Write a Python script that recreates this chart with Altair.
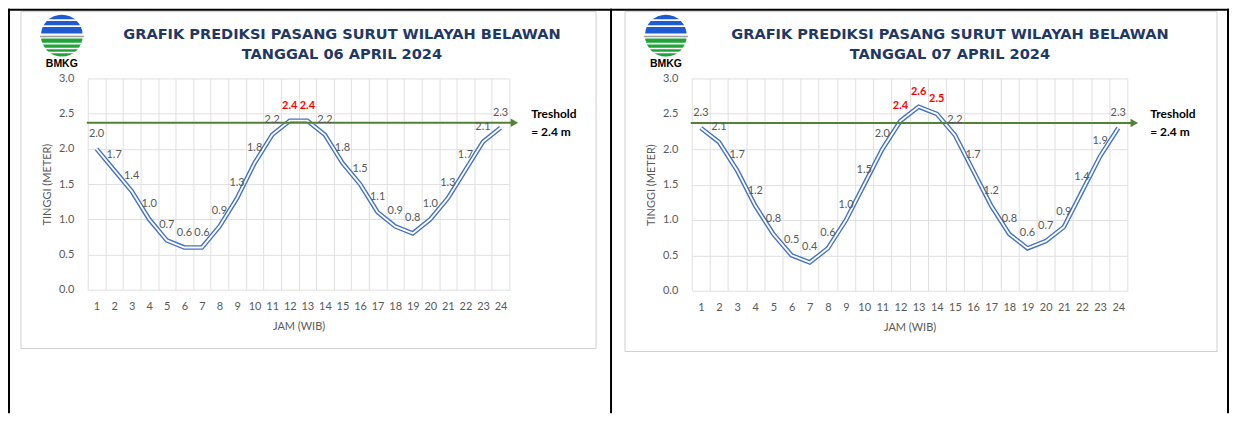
import math
import altair as alt
import pandas as pd

# ---------------- data ----------------
hours = list(range(1, 25))
tide_06_april = [2.0, 1.7, 1.4, 1.0, 0.7, 0.6, 0.6, 0.9, 1.3, 1.8, 2.2, 2.4,
                 2.4, 2.2, 1.8, 1.5, 1.1, 0.9, 0.8, 1.0, 1.3, 1.7, 2.1, 2.3]
tide_07_april = [2.3, 2.1, 1.7, 1.2, 0.8, 0.5, 0.4, 0.6, 1.0, 1.5, 2.0, 2.4,
                 2.6, 2.5, 2.2, 1.7, 1.2, 0.8, 0.6, 0.7, 0.9, 1.4, 1.9, 2.3]
chart_title = "GRAFIK PREDIKSI PASANG SURUT WILAYAH BELAWAN"
date_labels = ["TANGGAL 06 APRIL 2024", "TANGGAL 07 APRIL 2024"]
threshold_value = 2.4          # value named in the note
threshold_line_level = 2.37    # level at which the arrow is drawn
threshold_text = ["Treshold", "= 2.4 m"]
y_ticks = [0.0, 0.5, 1.0, 1.5, 2.0, 2.5, 3.0]
x_title = "JAM (WIB)"
y_title = "TINGGI (METER)"
logo_text = "BMKG"

# ---------------- styles ----------------
NAVY = "#1F3864"
BLUE = "#4472C4"
GREEN_LINE = "#548235"
GRAY_TXT = "#595959"
GRID = "#E0E0E0"
BOX = "#CFCFCF"
LOGO_BLUE = "#1F5BD0"
LOGO_GREEN = "#22A33A"

one = pd.DataFrame({"k": [0]})

y_scale = alt.Scale(domain=[0, 3], nice=False)
y_axis = alt.Axis(title=y_title, values=y_ticks, format=".1f", grid=True, ticks=False,
                  domain=False, labelPadding=14, titlePadding=6, labelOverlap=False,
                  tickCount=7)


def deco():
    return alt.Chart(one)


def rect(x, x2, y, y2, fill):
    return deco().mark_rect(fill=fill).encode(
        x=alt.value(x), x2=alt.value(x2), y=alt.value(y), y2=alt.value(y2))


def hline(x, x2, y, color, width):
    return deco().mark_rule(color=color, strokeWidth=width).encode(
        x=alt.value(x), x2=alt.value(x2), y=alt.value(y))


def logo(cx, cy):
    r = 21
    layers = [
        deco().mark_arc(color=LOGO_BLUE, radius=r, theta=1.5 * math.pi,
                        theta2=2.5 * math.pi).encode(x=alt.value(cx), y=alt.value(cy)),
        deco().mark_arc(color=LOGO_GREEN, radius=r, theta=0.5 * math.pi,
                        theta2=1.5 * math.pi).encode(x=alt.value(cx), y=alt.value(cy)),
        hline(cx - 24, cx + 24, cy - 15.5, "white", 2),
        hline(cx - 24, cx + 24, cy - 9.5, "white", 1.8),
        hline(cx - 24, cx + 24, cy + 0.5, "white", 5),
        hline(cx - 22, cx + 22, cy + 1, "#9A9A9A", 1.5),
        hline(cx - 24, cx + 24, cy + 8, "white", 1.8),
        hline(cx - 24, cx + 24, cy + 13, "white", 1.5),
        hline(cx - 24, cx + 24, cy + 17, "white", 1.5),
        deco().mark_text(text=logo_text, font="Liberation Sans", fontWeight="bold",
                         fontSize=10.5, color="black", align="center",
                         baseline="middle").encode(x=alt.value(cx), y=alt.value(cy + 28.5)),
    ]
    return layers


def panel(values, date_text, w, h, geo):
    df = pd.DataFrame({"hour": hours, "v": values})
    base = alt.Chart(df)
    x = alt.X("hour:O", bandPosition=0.5,
              scale=alt.Scale(type="band", paddingInner=0, paddingOuter=0),
              axis=alt.Axis(title=x_title, labelAngle=0, tickBand="extent", grid=True,
                            ticks=False, domain=False, labelPadding=11, titlePadding=9,
                            labelOverlap=False))
    y = alt.Y("v:Q", scale=y_scale, axis=y_axis)
    y_thr = alt.Y(datum=threshold_line_level, type="quantitative", scale=y_scale, axis=y_axis)

    line_outer = base.mark_line(color=BLUE, strokeWidth=4.6).encode(x=x, y=y)
    line_inner = base.mark_line(color="white", strokeWidth=1.8).encode(x=x, y=y)
    lab_gray = base.transform_filter(f"datum.v < {threshold_value}").mark_text(
        dy=-15, font="Lato", fontSize=11, color=GRAY_TXT, baseline="middle").encode(
        x=x, y=y, text=alt.Text("v:Q", format=".1f"))
    lab_red = base.transform_filter(f"datum.v >= {threshold_value}").mark_text(
        dy=-15, font="Lato", fontSize=11, fontWeight="bold", color="#FF0000",
        baseline="middle").encode(x=x, y=y, text=alt.Text("v:Q", format=".1f"))

    tip = geo["tip"]
    thr_rule = deco().mark_rule(color=GREEN_LINE, strokeWidth=2).encode(
        x=alt.value(-1), x2=alt.value(tip - 6), y=y_thr)
    thr_head = deco().mark_point(shape="triangle-right", filled=True, size=75,
                                 color=GREEN_LINE, opacity=1).encode(
        x=alt.value(tip - 4), y=y_thr)
    thr_t1 = deco().mark_text(text=threshold_text[0], font="Lato", fontWeight="bold",
                              fontSize=12, color="black", align="left",
                              baseline="middle").encode(x=alt.value(geo["tx"]), y=alt.value(36))
    thr_t2 = deco().mark_text(text=threshold_text[1], font="Lato", fontWeight="bold",
                              fontSize=12, color="black", align="left",
                              baseline="middle").encode(x=alt.value(geo["tx"]), y=alt.value(54))

    title1 = deco().mark_text(text=chart_title, font="DejaVu Sans", fontWeight="bold",
                              fontSize=14.6, color=NAVY, align="center",
                              baseline="middle").encode(x=alt.value(geo["title_x"]), y=alt.value(-44))
    title2 = deco().mark_text(text=date_text, font="DejaVu Sans", fontWeight="bold",
                              fontSize=14.6, color=NAVY, align="center",
                              baseline="middle").encode(x=alt.value(geo["title_x"]), y=alt.value(-23))

    bx0, by0, bx1, by1 = geo["box"]
    box = deco().mark_rect(fillOpacity=0, stroke=BOX, strokeWidth=1).encode(
        x=alt.value(bx0), x2=alt.value(bx1), y=alt.value(by0), y2=alt.value(by1))

    borders = [rect(x0, x1, y0, y1, "black") for (x0, x1, y0, y1) in geo["borders"]]

    layers = ([line_outer, line_inner] + borders + [box] + logo(-26, -43) +
              [title1, title2, thr_rule, thr_head, lab_gray, lab_red, thr_t1, thr_t2])
    return alt.layer(*layers).properties(width=w, height=h)


left = panel(tide_06_april, date_labels[0], 423, 212, {
    "tip": 432, "tx": 445, "title_x": 255,
    "box": (-67, -67, 510, 271),
    "borders": [(-80, -78, -70, 336), (-80, 526, -70, -68), (524, 526, -70, 336)],
})
right = panel(tide_07_april, date_labels[1], 437, 213, {
    "tip": 448, "tx": 460, "title_x": 259,
    "box": (-67, -67, 527, 274),
    "borders": [(-80, 539, -70, -68), (537, 539, -70, 336)],
})

chart = alt.hconcat(left, right, spacing=0).properties(padding=0).configure_view(
    stroke=None).configure_axis(
    labelFont="Lato", titleFont="Lato", labelColor=GRAY_TXT, titleColor=GRAY_TXT,
    labelFontSize=11, titleFontSize=11, titleFontWeight="normal", gridColor=GRID,
    gridWidth=1)

chart.save("out.html", embed_options={"renderer": "svg", "actions": False})
